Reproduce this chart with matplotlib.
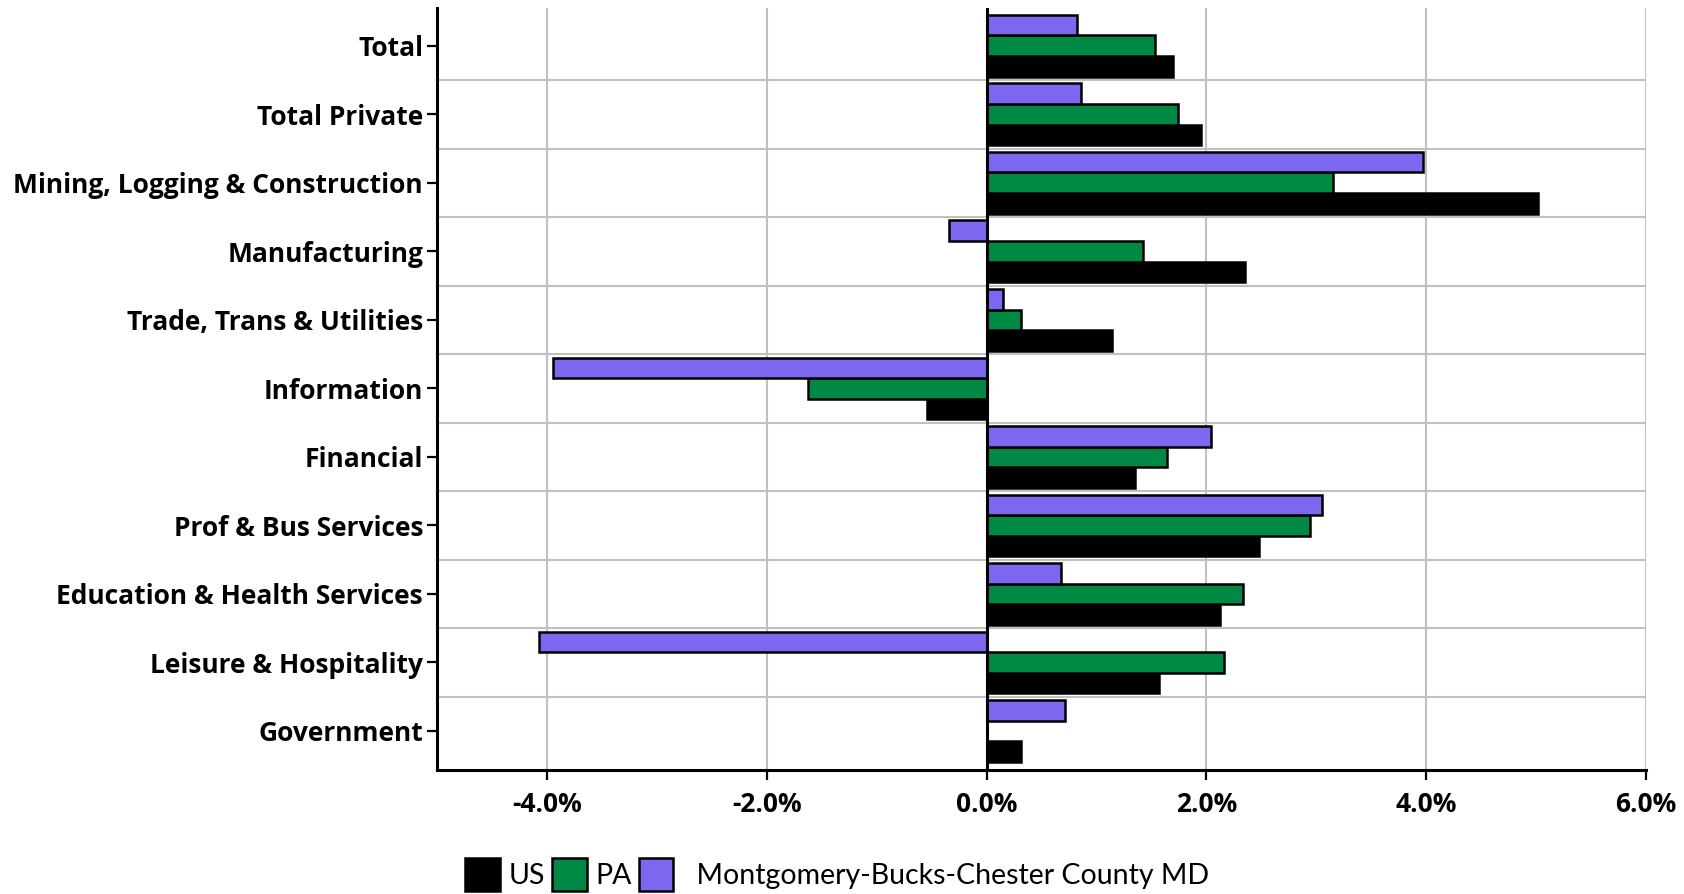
import matplotlib.pyplot as plt
from matplotlib.ticker import FuncFormatter

plt.rcParams['font.family'] = ['Lato', 'DejaVu Sans']

# over-the-year employment change, percent
sectors = ["Total", "Total Private", "Mining, Logging & Construction", "Manufacturing",
           "Trade, Trans & Utilities", "Information", "Financial", "Prof & Bus Services",
           "Education & Health Services", "Leisure & Hospitality", "Government"]
us = [1.70, 1.95, 5.02, 2.35, 1.14, -0.54, 1.35, 2.48, 2.12, 1.57, 0.31]
pa = [1.53, 1.74, 3.15, 1.42, 0.31, -1.62, 1.64, 2.94, 2.33, 2.16, 0.0]
md = [0.82, 0.86, 3.97, -0.34, 0.15, -3.94, 2.04, 3.05, 0.68, -4.07, 0.71]

series_names = ["US", "PA", "  Montgomery-Bucks-Chester County MD"]
colors = ["#000000", "#008944", "#7B68EE"]

fig = plt.figure(figsize=(16.84, 8.94), dpi=100)
ax = fig.add_axes([0.2595, 0.1387, 0.7179, 0.8523])

h = 0.3
pos = list(range(len(sectors)))
offsets = [h, 0, -h]
for vals, off, c, name in zip([us, pa, md], offsets, colors, series_names):
    ax.barh([p + off for p in pos], vals, height=h, color=c, edgecolor="black",
            linewidth=1.8, label=name, zorder=3)

ax.set_xlim(-5, 6)
ax.set_ylim(10.57, -0.55)
ax.set_xticks([-4, -2, 0, 2, 4, 6])
ax.xaxis.set_major_formatter(FuncFormatter(lambda v, _: f"{v:.1f}%"))
ax.set_yticks(pos)
ax.set_yticklabels(sectors)

# gridlines between categories and at each x tick
for b in [p + 0.5 for p in pos[:-1]]:
    ax.axhline(b, color="#C0C0C0", linewidth=1.5, zorder=1)
for xv in [-4, -2, 2, 4, 6]:
    ax.axvline(xv, color="#C0C0C0", linewidth=1.5, zorder=1)
ax.axvline(0, color="black", linewidth=2.2, zorder=4)

for s in ["top", "right"]:
    ax.spines[s].set_visible(False)
for s in ["left", "bottom"]:
    ax.spines[s].set_linewidth(2.2)

ax.tick_params(axis="both", which="major", length=7, width=1.6)
ax.tick_params(axis="y", pad=3)
ax.tick_params(axis="x", pad=8)
for lab in ax.get_xticklabels() + ax.get_yticklabels():
    lab.set_family(["Open Sans", "DejaVu Sans"])
    lab.set_fontweight("bold")
    lab.set_fontsize(19)

fig.legend(loc="lower left", bbox_to_anchor=(465 / 1684, 0.003), ncol=3, frameon=False,
           fontsize=20.5, handlelength=1.22, handleheight=1.45, handletextpad=0.3,
           columnspacing=0.25, borderaxespad=0, borderpad=0)

fig.savefig("out.png", dpi=100)
